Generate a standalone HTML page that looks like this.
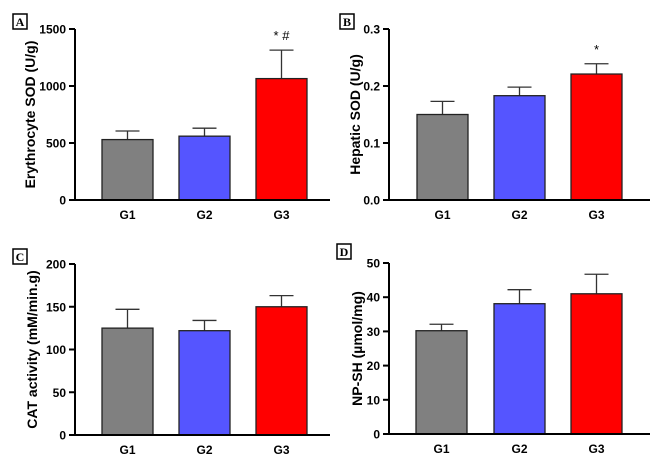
<!DOCTYPE html>
<html><head><meta charset="utf-8">
<style>
body{margin:0;background:#fff;width:665px;height:464px;overflow:hidden}
svg{display:block;font-family:"Liberation Sans",sans-serif}
</style></head><body>
<svg id="chart" width="665" height="464" viewBox="0 0 665 464"></svg>
<script>
const categories = ["G1","G2","G3"];
const colors = ["#808080","#5555ff","#ff0000"];
const valuesA = [530, 560, 1065];
const errorsA = [75, 70, 250];
const ticksA = [0, 500, 1000, 1500];
const tickLabelsA = ["0","500","1000","1500"];
const valuesB = [0.150, 0.183, 0.221];
const errorsB = [0.023, 0.015, 0.018];
const ticksB = [0, 0.1, 0.2, 0.3];
const tickLabelsB = ["0.0","0.1","0.2","0.3"];
const valuesC = [125, 122, 150];
const errorsC = [22, 12, 13];
const ticksC = [0, 50, 100, 150, 200];
const tickLabelsC = ["0","50","100","150","200"];
const valuesD = [30.2, 38.1, 41.0];
const errorsD = [1.9, 4.1, 5.7];
const ticksD = [0, 10, 20, 30, 40, 50];
const tickLabelsD = ["0","10","20","30","40","50"];
const sigA = ["", "", "* #"];
const sigB = ["", "", "*"];

const NS = "http://www.w3.org/2000/svg";
const svg = document.getElementById("chart");
function mk(tag, attrs, parent, text){
  const e = document.createElementNS(NS, tag);
  for (const k in attrs) e.setAttribute(k, attrs[k]);
  if (text !== undefined) e.textContent = text;
  (parent||svg).appendChild(e);
  return e;
}
function panel(id, letter, lx, ly, ax, top, zero, axEnd, barX, ymax, vals, errs, ticks, tickLabels, ytitle, sig, titleOff){
  const g = mk("g", {});
  
  
  const y = v => zero - v / ymax * (zero - top);
  const box = mk("rect", {x:lx, y:ly, width:14, height:15, fill:"#fff", stroke:"#000", "stroke-width":1.5}, g);
  
  
  const lt = mk("text", {x:lx+7, y:ly+12, "text-anchor":"middle", "font-family":"Liberation Serif, serif", "font-weight":"bold", "font-size":12}, g, letter);
  
  
  vals.forEach((v, i) => {
    const x0 = barX[i], w = 51;
    const cx = x0 + w/2;
    const eb = mk("line", {x1:cx, x2:cx, y1:y(v), y2:y(v+errs[i]), stroke:"#333", "stroke-width":1.3}, g);
    
    
    const cap = mk("line", {x1:cx-12, x2:cx+12, y1:y(v+errs[i]), y2:y(v+errs[i]), stroke:"#333", "stroke-width":1.3}, g);
    
    
    const r = mk("rect", {x:x0, y:y(v), width:w, height:zero - y(v), fill:colors[i], stroke:"#222", "stroke-width":1.3}, g);
    
    
    const cl = mk("text", {x:cx, y:zero+19, "text-anchor":"middle", "font-weight":"bold", "font-size":12}, g, categories[i]);
    
    
    if (sig && sig[i]) {
      const s = mk("text", {x:cx, y:y(v+errs[i]) - 10, "text-anchor":"middle", "font-size":13}, g, sig[i]);
      
      
    }
  });
  const yaxis = mk("line", {x1:ax, x2:ax, y1:top, y2:zero, stroke:"#000", "stroke-width":2}, g);
  
  
  const xaxis = mk("line", {x1:ax-6, x2:axEnd, y1:zero, y2:zero, stroke:"#000", "stroke-width":2}, g);
  
  
  ticks.forEach((t, i) => {
    const tk = mk("line", {x1:ax-6, x2:ax, y1:y(t), y2:y(t), stroke:"#000", "stroke-width":2}, g);
    
    
    const tl = mk("text", {x:ax-9, y:y(t)+4.5, "text-anchor":"end", "font-weight":"bold", "font-size":12}, g, tickLabels[i]);
    
    
  });
  const tx = ax - titleOff;
  const yt = mk("text", {x:tx, y:(top+zero)/2, "text-anchor":"middle", "font-weight":"bold", "font-size":14, transform:`rotate(-90 ${tx} ${(top+zero)/2})`}, g, ytitle);
  
  
}
panel("a","A",13,14,75,29,200,330,[102,179,256],1500,valuesA,errorsA,ticksA,tickLabelsA,"Erythrocyte SOD (U/g)",sigA,40);
panel("b","B",340,14,389,29,200,650,[417,494,571],0.3,valuesB,errorsB,ticksB,tickLabelsB,"Hepatic SOD (U/g)",sigB,29);
panel("c","C",13,249,75,264,435,330,[102,179,256],200,valuesC,errorsC,ticksC,tickLabelsC,"CAT activity (mM/min.g)",null,38);
panel("d","D",337,244,389,263,434,650,[416,494,571],50,valuesD,errorsD,ticksD,tickLabelsD,"NP-SH (µmol/mg)",null,27);
</script>
</body></html>
